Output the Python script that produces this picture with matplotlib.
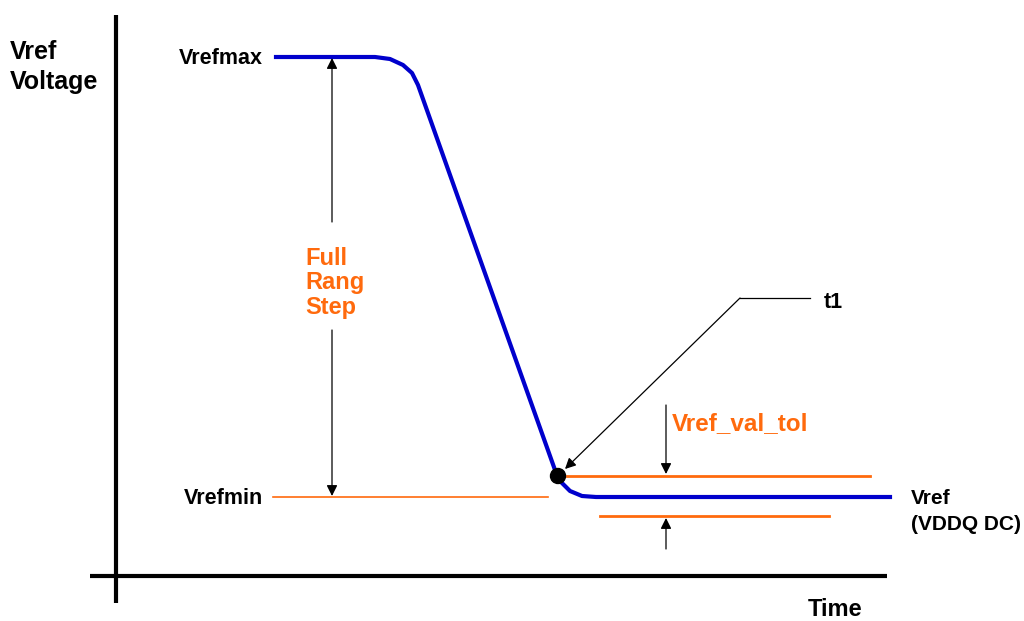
import matplotlib.pyplot as plt
from matplotlib.patches import Circle

# diagram drawn in pixel space of the 1024x621 reference
curve_x = [276, 375, 390, 403, 412, 418, 555, 561, 570, 582, 596, 890]
curve_y = [57, 57, 59, 65, 73, 85, 470, 482, 491, 496, 497, 497]

vrefmin_y = 497
tol_hi_y = 476
tol_lo_y = 516

ORANGE = "#FF6A0D"
BLUE = "#0000CC"

plt.rcParams['font.family'] = ['Liberation Sans', 'DejaVu Sans']
plt.rcParams['font.weight'] = 'bold'

fig = plt.figure(figsize=(10.24, 6.21), dpi=100)
ax = fig.add_axes([0, 0, 1, 1])
ax.set_xlim(0, 1024)
ax.set_ylim(621, 0)
ax.axis('off')

# axes lines
ax.plot([116, 116], [15, 603], color='black', lw=3, solid_capstyle='butt')
ax.plot([90, 887], [576, 576], color='black', lw=3, solid_capstyle='butt')

# orange reference lines
ax.plot([273, 548], [vrefmin_y, vrefmin_y], color=ORANGE, lw=1.2)
ax.plot([567, 870], [tol_hi_y, tol_hi_y], color=ORANGE, lw=2)
ax.plot([600, 829], [tol_lo_y, tol_lo_y], color=ORANGE, lw=2)

# step response
ax.plot(curve_x, curve_y, color=BLUE, lw=3, solid_joinstyle='round', zorder=3)

# t1 marker
ax.add_patch(Circle((558, 476), 7.5, color='black', zorder=4))

arrow = dict(arrowstyle='-|>', color='black', lw=0.9, mutation_scale=16, shrinkA=0, shrinkB=0)

# full range step arrows
ax.annotate('', xy=(332, 58), xytext=(332, 222), arrowprops=arrow)
ax.annotate('', xy=(332, 496), xytext=(332, 330), arrowprops=arrow)
ax.text(305, 283, 'Full\nRang\nStep', color=ORANGE, fontsize=17, ha='left', va='center',
        linespacing=1.1)

# tolerance arrows
ax.annotate('', xy=(666, 474), xytext=(666, 405), arrowprops=arrow)
ax.annotate('', xy=(666, 518), xytext=(666, 549), arrowprops=arrow)
ax.text(672, 424, 'Vref_val_tol', color=ORANGE, fontsize=17.5, ha='left', va='center')

# t1 leader
ax.plot([810, 740], [298, 298], color='black', lw=0.9)
ax.annotate('', xy=(565, 469), xytext=(740, 298), arrowprops=arrow)
ax.text(824, 302, 't1', fontsize=15.5, ha='left', va='center')

# labels
ax.text(10, 67, 'Vref\nVoltage', fontsize=18, ha='left', va='center', linespacing=1.28)
ax.text(263, 59, 'Vrefmax', fontsize=15.5, ha='right', va='center')
ax.text(263, 499, 'Vrefmin', fontsize=15.5, ha='right', va='center')
ax.text(911, 499, 'Vref', fontsize=15, ha='left', va='center')
ax.text(911, 524, '(VDDQ DC)', fontsize=15, ha='left', va='center')
ax.text(808, 609, 'Time', fontsize=17, ha='left', va='center')

fig.savefig('out.png', dpi=100)
